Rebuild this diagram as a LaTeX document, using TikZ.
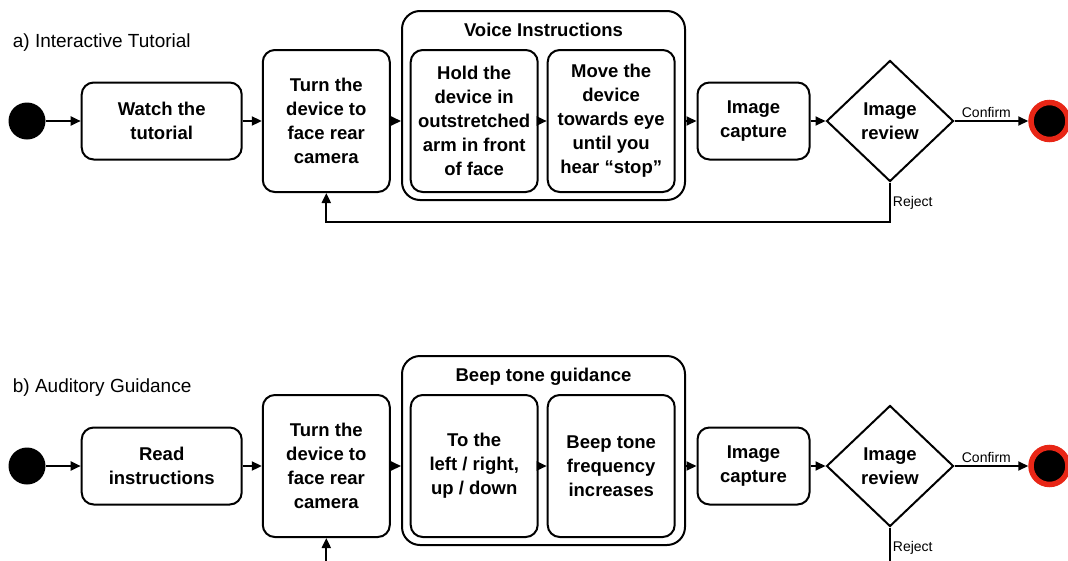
\documentclass[tikz,border=0pt]{standalone}
\usepackage{fontspec}
\setmainfont{Liberation Sans}
\usetikzlibrary{shapes.geometric,arrows.meta}
\definecolor{endred}{RGB}{232,38,22}
\newcommand{\boxfont}{\fontsize{18.5}{24}\selectfont\bfseries}
\newcommand{\titlefont}{\fontsize{19}{23}\selectfont}
\newcommand{\labfont}{\fontsize{14}{16}\selectfont}
\tikzset{
  act/.style={draw, line width=2pt, rounded corners=12pt, align=center, font=\boxfont, inner sep=0pt, minimum height=77pt},
  tall/.style={act, minimum height=142pt, minimum width=127pt},
  group/.style={draw, line width=2pt, rounded corners=18pt, minimum width=283pt, minimum height=189pt},
  decide/.style={diamond, draw, line width=2pt, align=center, font=\boxfont, inner sep=0pt, minimum width=127pt, minimum height=121pt},
  startdot/.style={circle, fill=black, minimum size=37pt, inner sep=0pt},
  enddot/.style={circle, fill=black, draw=endred, line width=5.5pt, minimum size=37pt, inner sep=0pt},
  flow/.style={line width=2pt, -{Triangle[length=10pt,width=9pt]}},
  lab/.style={font=\labfont, inner sep=2pt},
}
\begin{document}
\begin{tikzpicture}[x=1pt,y=-1pt]
    \useasboundingbox (0,0) rectangle (1068,560);
    % a) interactive tutorial
    \node[anchor=base west, font=\titlefont, inner sep=0pt] (titleA) at (12.7,47.3) {a) Interactive Tutorial};
    \node[startdot] (startA) at (27,121) {};
    \node[act, minimum width=160pt] (watchA) at (161.7,121) {Watch the\\tutorial};
    \node[tall] (turnA) at (326.3,121) {Turn the\\device to\\face rear\\camera};
    \node[group] (voiceA) at (543.5,105.5) {};
    \node[anchor=base, font=\boxfont, inner sep=0pt] (voicetitleA) at (543.5,36) {Voice Instructions};
    \node[tall] (holdA) at (474.2,121) {Hold the\\device in\\outstretched\\arm in front\\of face};
    \node[tall] (moveA) at (611.2,121) {Move the\\device\\towards eye\\until you\\hear “stop”};
    \node[act, minimum width=112pt] (captureA) at (753.5,121) {Image\\capture};
    \node[decide] (reviewA) at (890,121) {Image\\review};
    \node[enddot] (endA) at (1049.5,121) {};
    \draw[flow] (startA) -- (watchA);
    \draw[flow] (watchA) -- (turnA);
    \draw[flow] (turnA.east) -- (turnA.east -| voiceA.west);
    \draw[flow] (holdA) -- (moveA);
    \draw[flow] (voiceA.east |- captureA.west) -- (captureA.west);
    \draw[flow] (captureA) -- (reviewA);
    \draw[flow] (reviewA) -- node[lab, above, xshift=-5pt] (confirmA) {Confirm} (endA);
    \draw[flow] (reviewA.south) -- ++(0,39.3) -| (turnA.south);
    \node[lab, anchor=base west, inner sep=0pt] (rejectA) at (892.7,206.7) {Reject};
    % b) auditory guidance
    \begin{scope}[shift={(0,345)}]
    \node[anchor=base west, font=\titlefont, inner sep=0pt] (titleB) at (12.7,47.3) {b) Auditory Guidance};
    \node[startdot] (startB) at (27,121) {};
    \node[act, minimum width=160pt] (readB) at (161.7,121) {Read\\instructions};
    \node[tall] (turnB) at (326.3,121) {Turn the\\device to\\face rear\\camera};
    \node[group] (beepB) at (543.5,105.5) {};
    \node[anchor=base, font=\boxfont, inner sep=0pt] (beeptitleB) at (543.5,36) {Beep tone guidance};
    \node[tall] (leftB) at (474.2,121) {To the\\left / right,\\up / down};
    \node[tall] (freqB) at (611.2,121) {Beep tone\\frequency\\increases};
    \node[act, minimum width=112pt] (captureB) at (753.5,121) {Image\\capture};
    \node[decide] (reviewB) at (890,121) {Image\\review};
    \node[enddot] (endB) at (1049.5,121) {};
    \draw[flow] (startB) -- (readB);
    \draw[flow] (readB) -- (turnB);
    \draw[flow] (turnB.east) -- (turnB.east -| beepB.west);
    \draw[flow] (leftB) -- (freqB);
    \draw[flow] (beepB.east |- captureB.west) -- (captureB.west);
    \draw[flow] (captureB) -- (reviewB);
    \draw[flow] (reviewB) -- node[lab, above, xshift=-5pt] (confirmB) {Confirm} (endB);
    \draw[flow] (reviewB.south) -- ++(0,39.3) -| (turnB.south);
    \node[lab, anchor=base west, inner sep=0pt] (rejectB) at (892.7,206.7) {Reject};
    \end{scope}
\end{tikzpicture}
\end{document}
